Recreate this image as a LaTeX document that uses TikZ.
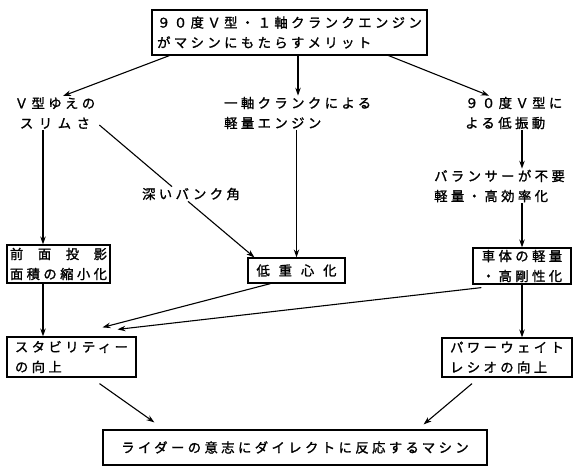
\documentclass[tikz,border=0pt]{standalone}
\usepackage{fontspec}
\usepackage{calc}
\setmainfont{Noto Sans CJK JP}[LetterSpace=26, FakeBold=1.4]
\usetikzlibrary{arrows.meta}
\tikzset{
  >=Stealth,
  flowarrow/.style={-{Stealth[length=8pt, width=5.5pt]}, line width=1.1pt},
  flowline/.style={line width=1.1pt},
  meritbox/.style={draw, line width=1.2pt, inner sep=0pt, align=left},
  meritlabel/.style={inner sep=1pt, align=left}
}
\newcommand{\spreadtext}[2]{\makebox[#1][s]{#2}}

\begin{document}
\begin{tikzpicture}[x=1pt, y=-1pt, every node/.style={font=\fontsize{13.3pt}{20pt}\selectfont}]
\useasboundingbox (0,0) rectangle (580,474);
% top row
\node[meritbox,minimum width=275pt,minimum height=45pt] (top) at (289.5,32.5)
{９０度Ｖ型・１軸クランクエンジン\\がマシンにもたらすメリット};
\node[meritlabel,align=center] (slim) at (55,113)
{Ｖ型ゆえの\\\spreadtext{70pt}{ス\hfil リ\hfil ム\hfil さ}};
\node[meritlabel,anchor=west] (light) at (223,113)
{一軸クランクによる\\軽量エンジン};
\node[meritlabel,anchor=west] (vib) at (464,113)
{９０度Ｖ型に\\よる低振動};
% middle row
\node[meritlabel] (bank) at (191,194) {深いバンク角};
\node[meritlabel,anchor=west] (balancer) at (433,186)
{バランサーが不要\\軽量・高効率化};
\node[meritbox,minimum width=103pt,minimum height=38pt] (front) at (58.5,264)
{\spreadtext{\widthof{面積の縮小化}}{前\hfil 面\hfil 投\hfil 影}\\面積の縮小化};
\node[meritbox,minimum width=97pt,minimum height=25pt] (lowcg) at (296.5,270.5)
{\spreadtext{80pt}{低\hfil 重\hfil 心\hfil 化}};
\node[meritbox,minimum width=98pt,minimum height=36pt] (body) at (522,266)
{車体の軽量\\・高剛性化};
% lower row
\node[meritbox,minimum width=129pt,minimum height=40pt] (stab) at (71.5,357)
{スタビリティー\\の向上};
\node[meritbox,minimum width=130pt,minimum height=39pt] (pwr) at (507,357.5)
{パワーウェイト\\レシオの向上};
\node[meritbox,minimum width=384pt,minimum height=35pt] (rider) at (295,447.5)
{ライダーの意志にダイレクトに反応するマシン};
% connectors
\draw[flowarrow] ([xshift=18pt]top.south west) -- ([xshift=8pt]slim.north);
\draw[flowarrow] ([xshift=8.5pt]top.south) -- ([xshift=8.5pt]top.south |- light.north);
\draw[flowarrow] ([xshift=-39pt]top.south east) -- ([xshift=25pt]vib.north west);
\draw[flowarrow] ([xshift=-12pt]slim.south) -- ([xshift=-12pt]slim.south |- front.north);
\draw[flowline] ([xshift=3pt,yshift=5pt]slim.south east) -- ([xshift=-19pt]bank.north);
\draw[flowarrow] ([xshift=-3pt]bank.south) -- ([xshift=7pt]lowcg.north west);
\draw[flowarrow] (light.south -| lowcg.north) -- (lowcg.north);
\draw[flowarrow] (vib.south -| body.north) -- (balancer.north -| body.north);
\draw[flowarrow] (balancer.south -| body.north) -- (body.north);
\draw[flowarrow] ([xshift=-15.5pt]front.south) -- ([xshift=-15.5pt]front.south |- stab.north);
\draw[flowarrow] ([xshift=-26pt]lowcg.south) -- ([xshift=31pt,yshift=9pt]stab.north);
\draw[flowarrow] ([xshift=9pt,yshift=-3pt]body.south west) -- ([xshift=46pt,yshift=7pt]stab.north);
\draw[flowarrow] (body.south) -- (body.south |- pwr.north);
\draw[flowarrow] ([xshift=28pt,yshift=-6pt]stab.south) -- ([xshift=52pt,yshift=7pt]rider.north west);
\draw[flowarrow] ([xshift=-35pt,yshift=-6pt]pwr.south) -- ([xshift=-64pt,yshift=5pt]rider.north east);
\end{tikzpicture}
\end{document}
